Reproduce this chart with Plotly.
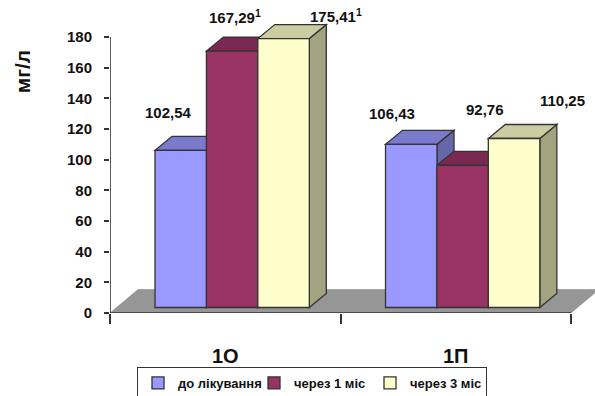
import plotly.graph_objects as go

# Chart data
groups = ["1О", "1П"]
series_names = ["до лікування", "через 1 міс", "через 3 міс"]
before = [102.54, 106.43]
after_1m = [167.29, 92.76]
after_3m = [175.41, 110.25]
superscripts_1m = ["1", ""]
superscripts_3m = ["1", ""]
y_ticks = [0, 20, 40, 60, 80, 100, 120, 140, 160, 180]

# Colours of each series: front, top face, side face
FRONT = ["#9999FF", "#993366", "#FFFFCC"]
TOP = ["#7A7ACC", "#7A2952", "#CCCCA3"]
SIDE = ["#6666AA", "#662244", "#A3A382"]
EDGE = "#333333"
FLOOR = "#969696"
TEXT = "#111111"
FONT = "Liberation Sans"

# Scale of the plot area
PX_PER_CAT = 230.5
PX_PER_UNIT = 1.533
LEFT, BOTTOM, WIDTH, HEIGHT = 110, 83, 595, 396
plot_w = WIDTH - LEFT
plot_h = HEIGHT - BOTTOM
x_max = plot_w / PX_PER_CAT
y_max = plot_h / PX_PER_UNIT

# Oblique projection: how far a bar's depth shifts on each axis
BAR_DX = 17 / PX_PER_CAT
BAR_DY = 14 / PX_PER_UNIT
FLOOR_DX = 28 / PX_PER_CAT
FLOOR_DY = 23.5 / PX_PER_UNIT
BAR_BASE = 5.5 / PX_PER_UNIT
BAR_W = 51.5 / PX_PER_CAT
BAR_OFFSETS = [0.307, 0.530, 0.753]


def poly(points, fill, line=EDGE, width=1.3):
    path = "M" + " L".join(f"{x:.4f},{y:.3f}" for x, y in points) + " Z"
    return dict(type="path", path=path, xref="x", yref="y", layer="below",
                fillcolor=fill, line=dict(color=line, width=width))


fig = go.Figure()
shapes = [poly([(0, 0), (2, 0), (2 + FLOOR_DX, FLOOR_DY), (FLOOR_DX, FLOOR_DY)],
               FLOOR, line="#808080", width=0.5)]

all_series = [before, after_1m, after_3m]
for s, (name, values) in enumerate(zip(series_names, all_series)):
    xs = [g + BAR_OFFSETS[s] for g in range(len(groups))]
    fig.add_trace(go.Bar(
        x=xs, y=values, base=BAR_BASE, width=BAR_W, name=name,
        marker=dict(color=FRONT[s], line=dict(color=EDGE, width=1.3)),
        hoverinfo="skip",
    ))

# Top and side faces, painted left to right so nearer bars overlap earlier ones
for g in range(len(groups)):
    for s, values in enumerate(all_series):
        x0 = g + BAR_OFFSETS[s] - BAR_W / 2
        x1 = x0 + BAR_W
        y0 = BAR_BASE
        y1 = BAR_BASE + values[g]
        shapes.append(poly([(x1, y0), (x1 + BAR_DX, y0 + BAR_DY),
                            (x1 + BAR_DX, y1 + BAR_DY), (x1, y1)], SIDE[s]))
        shapes.append(poly([(x0, y1), (x1, y1),
                            (x1 + BAR_DX, y1 + BAR_DY), (x0 + BAR_DX, y1 + BAR_DY)], TOP[s]))

# Axis lines stop at the last tick, so they are drawn over a wider plot area
fig.add_trace(go.Scatter(x=[0, 0, 2], y=[y_ticks[-1], 0, 0], mode="lines",
                         line=dict(color=EDGE, width=1.6), cliponaxis=False,
                         showlegend=False, hoverinfo="skip"))

# Value labels sit at hand-placed (x, y) pixel nudges from the top of each bar
label_nudges = [
    [(-12, -38), (-19, -31)],
    [(3, -35), (22, -56)],
    [(52, -23), (48, -38)],
]
superscripts = [["", ""], superscripts_1m, superscripts_3m]
annotations = []
for s, values in enumerate(all_series):
    for g, v in enumerate(values):
        label = f"{v:.2f}".replace(".", ",")
        if superscripts[s][g]:
            label += f"<sup>{superscripts[s][g]}</sup>"
        dx, dy = label_nudges[s][g]
        annotations.append(dict(
            x=g + BAR_OFFSETS[s], y=BAR_BASE + v, xref="x", yref="y",
            text=label, showarrow=False, xshift=dx, yshift=-dy,
            font=dict(family=FONT, size=15, color=TEXT, weight="bold"),
        ))

annotations.append(dict(
    x=(22 - LEFT) / plot_w, y=157, xref="paper", yref="y", xanchor="center",
    text="мг/л", showarrow=False, textangle=-90,
    font=dict(family=FONT, size=21, color=TEXT, weight="bold"),
))

fig.update_layout(
    width=WIDTH, height=HEIGHT, autosize=False,
    margin=dict(l=LEFT, r=0, t=0, b=BOTTOM, autoexpand=False),
    paper_bgcolor="white", plot_bgcolor="white",
    barmode="overlay", shapes=shapes, annotations=annotations,
    xaxis=dict(
        range=[0, x_max], tickmode="array",
        tickvals=[0.5, 1.5], ticktext=groups, ticks="", showgrid=False,
        zeroline=False, showline=False, ticklabelstandoff=29,
        tickfont=dict(family=FONT, size=20, color=TEXT, weight="bold"),
        minor=dict(tickmode="array", tickvals=[0, 1, 2], ticks="outside",
                   ticklen=10, tickwidth=1.5, tickcolor=EDGE, showgrid=False),
    ),
    yaxis=dict(
        range=[0, y_max], tickmode="array", tickvals=y_ticks, ticks="outside",
        ticklen=5, tickwidth=1.5, tickcolor=EDGE, showgrid=False,
        zeroline=False, showline=False, ticklabelstandoff=9,
        tickfont=dict(family=FONT, size=15, color=TEXT, weight="bold"),
    ),
    legend=dict(
        orientation="h", x=(137 - LEFT) / plot_w, y=-(367 - plot_h) / plot_h,
        xanchor="left", yanchor="top", bgcolor="white", bordercolor=EDGE,
        borderwidth=1, font=dict(family=FONT, size=13, color=TEXT, weight="bold"),
        itemwidth=30, traceorder="normal", entrywidth=71, entrywidthmode="pixels",
    ),
)

fig.write_html("out.html", config=dict(displayModeBar=False))
